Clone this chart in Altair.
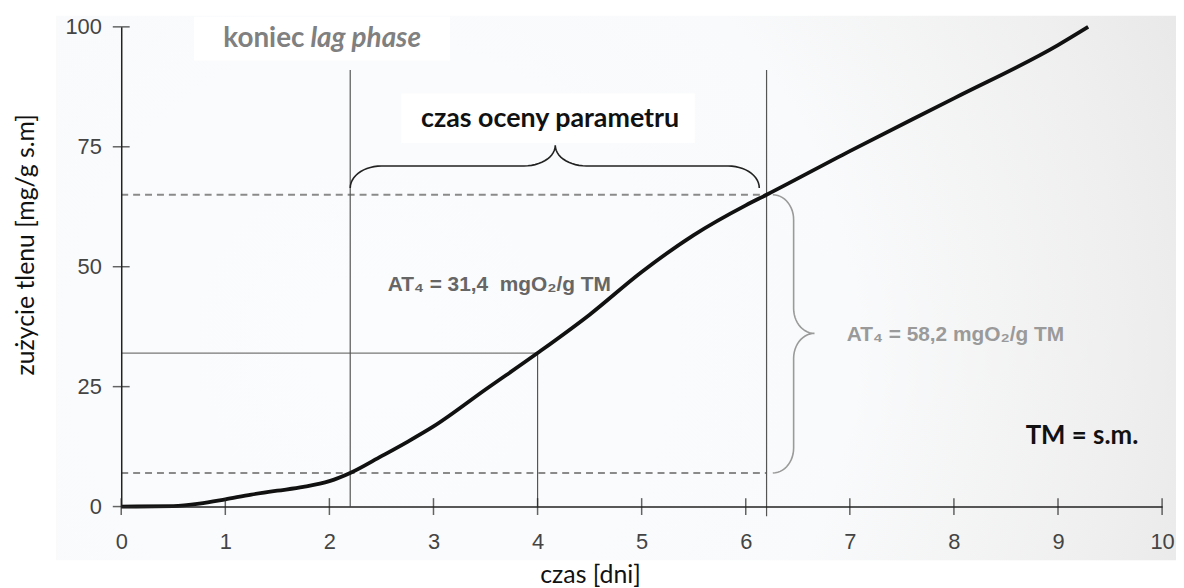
import altair as alt
import pandas as pd
import numpy as np

# ---- data ----
curve_x = [0.0, 0.5, 0.75, 1.0, 1.25, 1.5, 1.75, 2.0, 2.2, 2.5, 2.75, 3.0, 3.5, 4.0,
           4.5, 5.0, 5.5, 6.0, 6.2, 7.0, 8.0, 9.0, 9.29]
curve_y = [0.0, 0.1, 0.6, 1.5, 2.5, 3.3, 4.1, 5.3, 7.0, 10.5, 13.5, 16.7, 24.4, 32.0,
           40.0, 48.9, 56.6, 62.8, 65.0, 74.1, 85.1, 96.2, 100.0]

x_ticks = [0, 1, 2, 3, 4, 5, 6, 7, 8, 9, 10]
y_ticks = [0, 25, 50, 75, 100]

vline_x = [2.2, 6.2, 4.0]
vline_bottom = [0.0, -2.0, 0.0]
vline_top = [91.0, 91.0, 32.0]

dash_y = [65.0, 7.0]
dash_x_end = [6.2, 6.2]

solid_y = [32.0]
solid_x_end = [4.0]

labels_txt = ["czas oceny parametru", "AT₄ = 31,4\u00a0 mgO₂/g TM", "AT₄ = 58,2 mgO₂/g TM", "TM = s.m."]

# ---- helper frames ----
curve = pd.DataFrame({"x": curve_x, "y": curve_y})
xt = pd.DataFrame({"x": x_ticks})
yt = pd.DataFrame({"y": y_ticks})
vl = pd.DataFrame({"x": vline_x, "y": vline_bottom, "y2": vline_top})
dl = pd.DataFrame({"y": dash_y, "x": [0.0] * 2, "x2": dash_x_end})
sl = pd.DataFrame({"y": solid_y, "x": [0.0], "x2": solid_x_end})


def arc(cx, cy, rx, ry, t0, t1, n=14):
    t = np.radians(np.linspace(t0, t1, n))
    return list(zip(cx + rx * np.cos(t), cy + ry * np.sin(t)))


def brace_h(x0, x1, xm, y_end, y_body, y_tip, rx):
    ry1 = y_body - y_end
    ry2 = y_tip - y_body
    pts = []
    pts += arc(x0 + rx, y_end, rx, ry1, 180, 90)
    pts += arc(xm - rx, y_tip, rx, ry2, 270, 360)
    pts += arc(xm + rx, y_tip, rx, ry2, 180, 270)
    pts += arc(x1 - rx, y_end, rx, ry1, 90, 0)
    return pts


def brace_v(y_top, y_bot, ym, x_end, x_body, x_tip, ry):
    rx1 = x_body - x_end
    rx2 = x_tip - x_body
    pts = []
    pts += arc(x_end, y_top - ry, rx1, ry, 90, 0)
    pts += arc(x_tip, ym + ry, rx2, ry, 180, 270)
    pts += arc(x_tip, ym - ry, rx2, ry, 90, 180)
    pts += arc(x_end, y_bot + ry, rx1, ry, 0, -90)
    return pts


bt = brace_h(2.2, 6.13, 4.17, 66.4, 71.0, 75.3, 0.3)
br = brace_v(65.0, 7.0, 36.1, 6.26, 6.46, 6.66, 5.2)
brace_top = pd.DataFrame({"x": [p[0] for p in bt], "y": [p[1] for p in bt], "i": range(len(bt))})
brace_right = pd.DataFrame({"x": [p[0] for p in br], "y": [p[1] for p in br], "i": range(len(br))})

XS = alt.Scale(domain=[0, 10], nice=False, zero=False)
YS = alt.Scale(domain=[0, 100], nice=False, zero=False)

x_axis = alt.Axis(values=x_ticks, format="d", title="czas [dni]", grid=False, ticks=False, tickSize=0,
                  domainColor="#222", domainWidth=1.5, labelFont="Liberation Sans", labelFlush=False,
                  labelFontSize=22, labelColor="#444", labelPadding=25, zindex=1,
                  titleFont="Lato", titleFontSize=25, titleFontWeight="normal", titleColor="#111",
                  titleX=472, titleY=68, titleBaseline="middle", titleAlign="center")
y_axis = alt.Axis(values=y_ticks, format="d", title="zużycie tlenu [mg/g s.m]", grid=False, ticks=False,
                  tickSize=0, domainColor="#222", domainWidth=1.5, labelFont="Liberation Sans",
                  labelFlush=False, labelFontSize=22, labelColor="#444", labelPadding=20, zindex=1,
                  titleFont="Lato", titleFontSize=25, titleFontWeight="normal", titleColor="#111",
                  titleX=-96, titleY=219, titleAngle=270, titleBaseline="middle", titleAlign="center")

bg_fill = alt.RadialGradient(
    gradient="radial", x1=0.28, y1=0.55, r1=0.0, x2=0.28, y2=0.55, r2=0.95,
    stops=[alt.GradientStop(color="#fbfcfd", offset=0.0),
           alt.GradientStop(color="#f9fafb", offset=0.45),
           alt.GradientStop(color="#efefef", offset=0.7),
           alt.GradientStop(color="#dedede", offset=1.0)])

base = alt.Chart(curve)
one = base.transform_filter("datum.x == 0")

background = one.mark_rect(fill=bg_fill).encode(
    x=alt.datum(-0.62, scale=XS, axis=x_axis), x2=alt.datum(10.2),
    y=alt.datum(102.3, scale=YS, axis=y_axis), y2=alt.datum(-11.2))

box1 = one.mark_rect(fill="white").encode(
    x=alt.datum(0.70), x2=alt.datum(3.16), y=alt.datum(102.1), y2=alt.datum(93.0))
box2 = one.mark_rect(fill="white").encode(
    x=alt.datum(2.69), x2=alt.datum(5.51), y=alt.datum(86.1), y2=alt.datum(75.8))

dashed = alt.Chart(dl).mark_rule(color="#8a8a8a", strokeWidth=2, strokeDash=[7, 5]).encode(
    x="x:Q", x2="x2:Q", y="y:Q")
solid = alt.Chart(sl).mark_rule(color="#777", strokeWidth=1.3).encode(x="x:Q", x2="x2:Q", y="y:Q")
vlines = alt.Chart(vl).mark_rule(color="#555", strokeWidth=1.2).encode(x="x:Q", y="y:Q", y2="y2:Q")

b_top = alt.Chart(brace_top).mark_line(color="#222", strokeWidth=1.6).encode(
    x="x:Q", y="y:Q", order="i:Q")
b_right = alt.Chart(brace_right).mark_line(color="#9a9a9a", strokeWidth=1.6).encode(
    x="x:Q", y="y:Q", order="i:Q")

line = base.mark_line(color="#111", strokeWidth=3.8, interpolate="monotone").encode(x="x:Q", y="y:Q")

xticks = alt.Chart(xt).mark_tick(orient="vertical", size=17, thickness=1.5, color="#222").encode(
    x="x:Q", y=alt.datum(0))
yticks = alt.Chart(yt).mark_tick(orient="horizontal", size=17, thickness=1.5, color="#222").encode(
    y="y:Q", x=alt.datum(0))

t_koniec = one.mark_text(text="koniec", font="Lato", fontSize=28, fontWeight="bold", color="#808080",
                         align="right", baseline="middle").encode(x=alt.datum(1.76), y=alt.datum(97.4))
t_lag = one.mark_text(text="lag phase", font="Lato", fontSize=28, fontWeight="bold", fontStyle="italic",
                      color="#808080", align="left", baseline="middle").encode(x=alt.datum(1.818), y=alt.datum(97.4))
t_czas = one.mark_text(text=labels_txt[0], font="Lato", fontSize=27, fontWeight="bold", color="#111",
                       align="center", baseline="middle").encode(x=alt.datum(4.12), y=alt.datum(80.7))
t_at1 = one.mark_text(text=labels_txt[1], font="Liberation Sans", fontSize=21, fontWeight="bold", color="#666",
                      align="left", baseline="middle").encode(x=alt.datum(2.56), y=alt.datum(46.2))
t_at2 = one.mark_text(text=labels_txt[2], font="Liberation Sans", fontSize=21, fontWeight="bold", color="#9a9a9a",
                      align="left", baseline="middle").encode(x=alt.datum(6.97), y=alt.datum(35.7))
t_tm = one.mark_text(text=labels_txt[3], font="Lato", fontSize=26, fontWeight="bold", color="#111",
                     align="center", baseline="middle").encode(x=alt.datum(9.23), y=alt.datum(14.7))

chart = alt.layer(background, box1, box2, dashed, solid, vlines, b_top, b_right, line,
                  xticks, yticks, t_koniec, t_lag, t_czas, t_at1, t_at2, t_tm).properties(
    width=1048, height=483,
    padding={"left": 114, "top": 17, "right": 14, "bottom": 80},
    autosize=alt.AutoSizeParams(type="none"),
).configure_view(stroke=None)

chart.save("out.html", embed_options={"renderer": "svg", "actions": False})
